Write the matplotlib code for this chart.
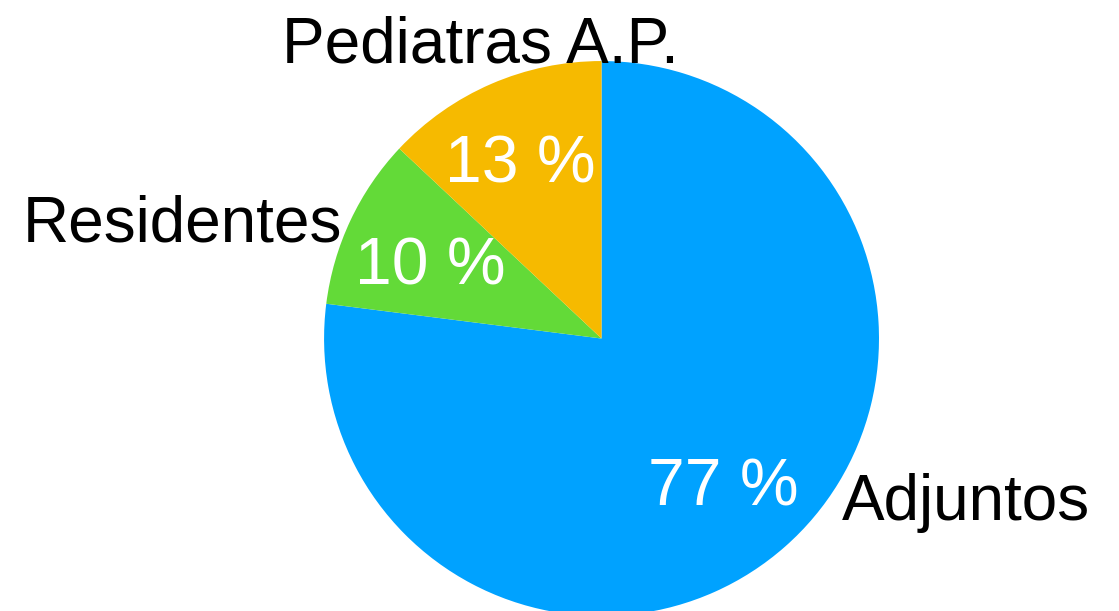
import matplotlib.pyplot as plt

labels = ["Adjuntos", "Residentes", "Pediatras A.P."]
shares = [77, 10, 13]
colors = ["#00A2FF", "#63DA38", "#F6BA00"]

# hand-placed text anchors (data units, pie radius = 1), baseline aligned
label_pos = [(0.867, -0.654, "left"), (-1.512, 0.348, "center"), (-0.438, 0.996, "center")]
pct_pos = [(0.438, -0.600), (-0.618, 0.193), (-0.294, 0.564)]

fig = plt.figure(figsize=(11.19, 6.11), dpi=100, facecolor="white")
ax = fig.add_axes([0, 0, 1, 1])

wedges, texts, autotexts = ax.pie(
    shares, labels=labels, colors=colors, startangle=90, counterclock=False,
    autopct=lambda p: f"{p:.0f} %", wedgeprops=dict(linewidth=0),
)

for t, (x, y, ha) in zip(texts, label_pos):
    t.set_position((x, y))
    t.set_ha(ha)
    t.set_va("baseline")
    t.set_fontsize(46)
    t.set_color("black")
    t.set_family("Liberation Sans")

for t, (x, y) in zip(autotexts, pct_pos):
    t.set_position((x, y))
    t.set_ha("center")
    t.set_va("baseline")
    t.set_fontsize(47.5)
    t.set_color("white")
    t.set_family("Liberation Sans")

ax.set_xlim(-2.168, 1.865)
ax.set_ylim(-0.982, 1.220)
ax.set_aspect("auto")
ax.axis("off")

fig.savefig("out.png", dpi=100, facecolor="white")
